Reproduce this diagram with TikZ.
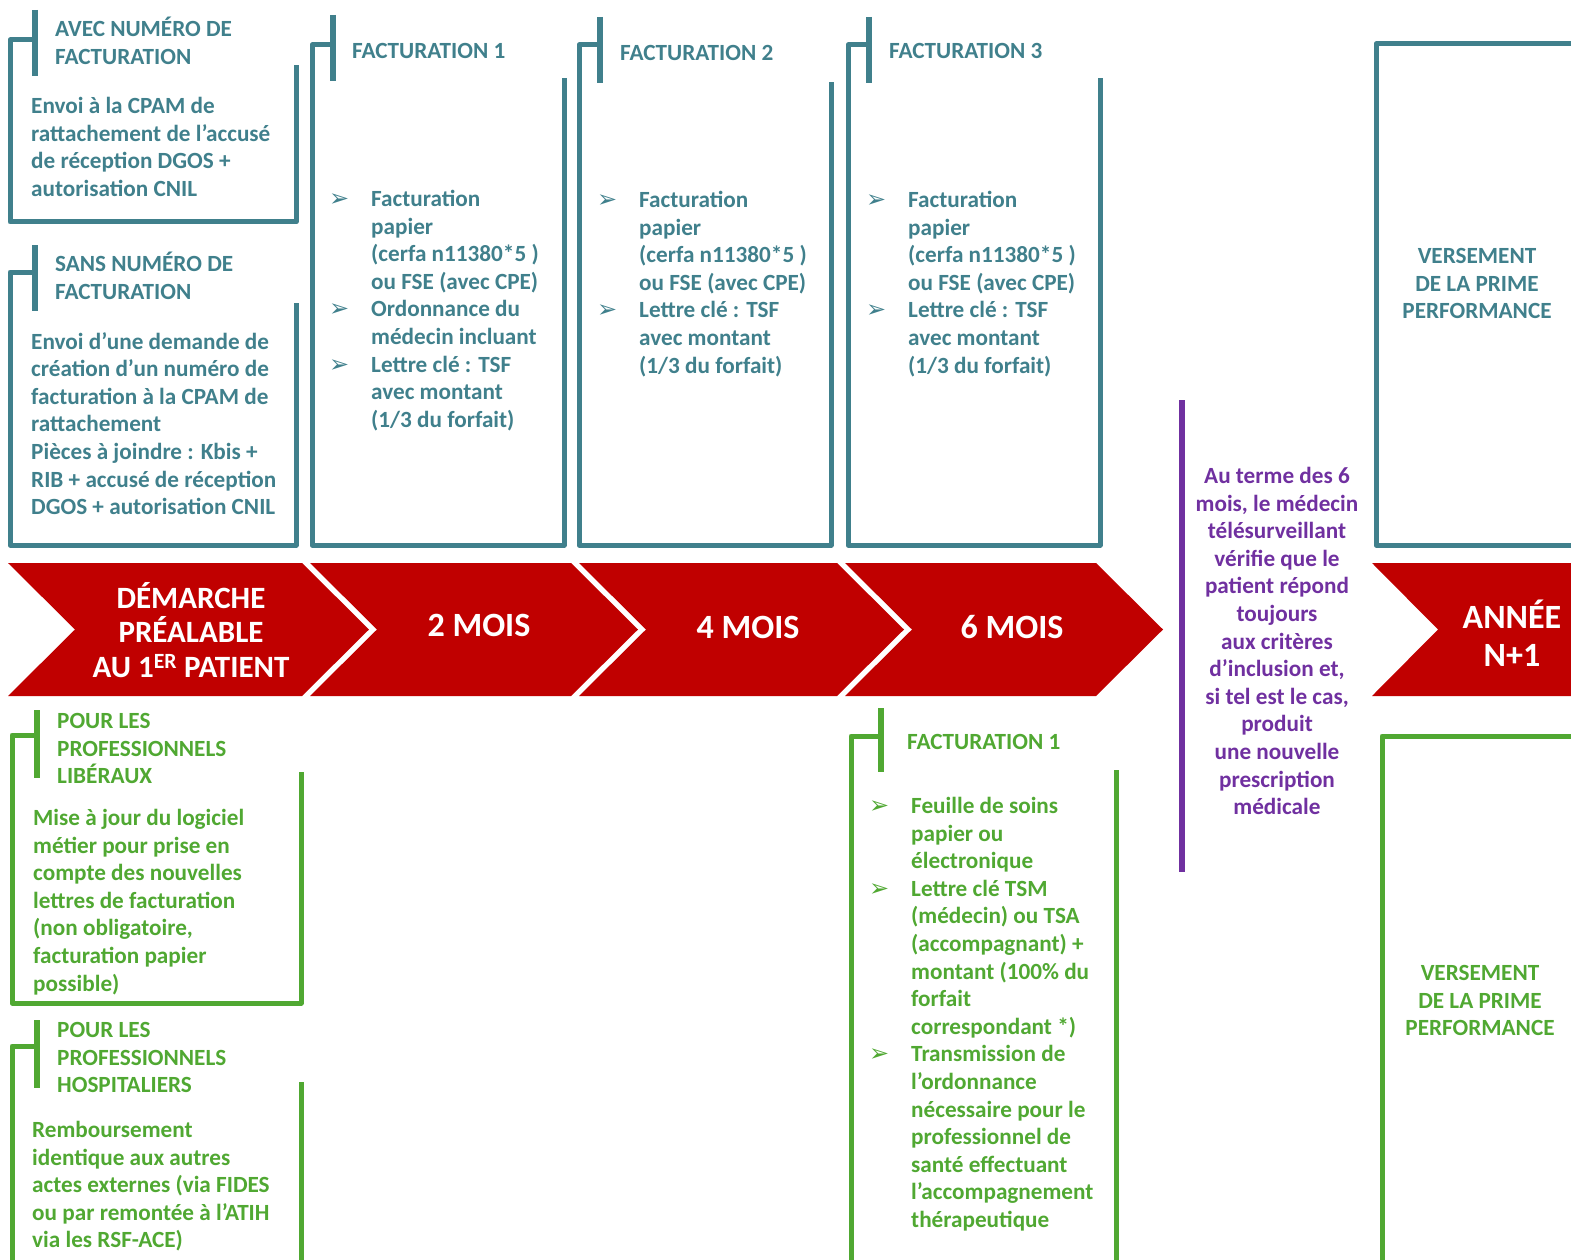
\documentclass[tikz,border=0pt]{standalone}
\usepackage{fontspec}
\setmainfont{Carlito}
\newfontfamily\flechefont{DejaVu Sans}

\definecolor{bleufact}{RGB}{64,128,140}
\definecolor{rougemois}{RGB}{192,0,0}
\definecolor{vertpro}{RGB}{80,168,50}
\definecolor{violetmed}{RGB}{112,48,160}

\newcommand{\corps}{\fontsize{23.2}{27.6}\selectfont\bfseries}
\newcommand{\puce}{\llap{{\flechefont\fontsize{24}{24}\selectfont ➢}\hspace{22pt}}}

\tikzset{
  cadre/.style={line width=5pt, line join=round},
  barre/.style={line width=6.5pt},
  texte/.style={font=\corps, align=left, inner sep=0pt, anchor=north west, execute at begin node=\strut},
  centre/.style={texte, align=center, anchor=north},
  chevron/.style={fill=rougemois},
  mois/.style={font=\fontsize{34}{38}\selectfont\bfseries, text=white, inner sep=0pt, anchor=base},
  demarche/.style={font=\fontsize{31}{34.5}\selectfont\bfseries, text=white, inner sep=0pt, align=center, anchor=north, execute at begin node=\strut}
}

\begin{document}
\begin{tikzpicture}[x=1pt, y=-1pt]
            \useasboundingbox (0,0) rectangle (1571,1260);
            \clip (0,0) rectangle (1571,1260);

            %chevrons
            \fill[chevron] (8,563) -- (302,563) -- (369,629.5) -- (302,696) -- (8,696) -- (75,629.5) -- cycle;
            \fill[chevron] (310,563) -- (571,563) -- (638,629.5) -- (571,696) -- (310,696) -- (377,629.5) -- cycle;
            \fill[chevron] (579,563) -- (837,563) -- (904,629.5) -- (837,696) -- (579,696) -- (646,629.5) -- cycle;
            \fill[chevron] (845,563) -- (1096,563) -- (1163,629.5) -- (1096,696) -- (845,696) -- (912,629.5) -- cycle;
            \fill[chevron] (1372,563) -- (1580,563) -- (1580,696) -- (1372,696) -- (1438,629.5) -- cycle;

            %chevron labels
            \node[demarche] (demarche) at (191,582) {DÉMARCHE\\PRÉALABLE\\AU 1\textsuperscript{ER} PATIENT};
            \node[mois] (mois2) at (479,636) {2 MOIS};
            \node[mois] (mois4) at (748,638) {4 MOIS};
            \node[mois] (mois6) at (1012,638) {6 MOIS};
            \node[mois, align=center, anchor=north, execute at begin node=\strut] (anneeN) at (1512,600) {ANNÉE\\N+1};

            %top frames
            \draw[cadre, bleufact] (35,40) -- (10,40) -- (10,222) -- (296,222) -- (296,65);
            \draw[barre, bleufact] (35,10) -- (35,76);
            \draw[cadre, bleufact] (35,272) -- (10,272) -- (10,545) -- (296,545) -- (296,303);
            \draw[barre, bleufact] (35,245) -- (35,311);
            \draw[cadre, bleufact] (333,45) -- (312,45) -- (312,545) -- (564,545) -- (564,78);
            \draw[barre, bleufact] (333,15) -- (333,81);
            \draw[cadre, bleufact] (600,45) -- (579,45) -- (579,545) -- (831,545) -- (831,82);
            \draw[barre, bleufact] (600,17) -- (600,83);
            \draw[cadre, bleufact] (869,45) -- (848,45) -- (848,545) -- (1100,545) -- (1100,78);
            \draw[barre, bleufact] (869,17) -- (869,83);
            \draw[cadre, bleufact] (1590,44) -- (1376,44) -- (1376,545) -- (1590,545);

            %top texts
            \node[texte, text=bleufact] (avecT) at (55,17) {AVEC NUMÉRO DE\\FACTURATION};
            \node[texte, text=bleufact] (avecB) at (31,97) {Envoi à la CPAM de\\rattachement de l’accusé\\de réception DGOS +\\autorisation CNIL};
            \node[texte, text=bleufact] (sansT) at (55,252) {SANS NUMÉRO DE\\FACTURATION};
            \node[texte, text=bleufact] (sansB) at (31,332) {Envoi d’une demande de\\création d’un numéro de\\facturation à la CPAM de\\rattachement\\Pièces à joindre : Kbis +\\RIB + accusé de réception\\DGOS + autorisation CNIL};
            \node[texte, text=bleufact] (fact1T) at (352,39) {FACTURATION 1};
            \node[texte, text=bleufact] (fact1B) at (371,190) {\puce Facturation\\papier\\(cerfa n11380*5 )\\ou FSE (avec CPE)\\\puce Ordonnance du\\médecin incluant\\\puce Lettre clé : TSF\\avec montant\\(1/3 du forfait)};
            \node[texte, text=bleufact] (fact2T) at (620,41) {FACTURATION 2};
            \node[texte, text=bleufact] (fact2B) at (639,191) {\puce Facturation\\papier\\(cerfa n11380*5 )\\ou FSE (avec CPE)\\\puce Lettre clé : TSF\\avec montant\\(1/3 du forfait)};
            \node[texte, text=bleufact] (fact3T) at (889,39) {FACTURATION 3};
            \node[texte, text=bleufact] (fact3B) at (908,191) {\puce Facturation\\papier\\(cerfa n11380*5 )\\ou FSE (avec CPE)\\\puce Lettre clé : TSF\\avec montant\\(1/3 du forfait)};
            \node[centre, text=bleufact] (primeH) at (1477,248) {VERSEMENT\\DE LA PRIME\\PERFORMANCE};

            %six months check
            \draw[barre, violetmed] (1182,400) -- (1182,872);
            \node[centre, text=violetmed] (terme) at (1277,467) {Au terme des 6\\mois, le médecin\\télésurveillant\\vérifie que le\\patient répond\\toujours\\aux critères\\d’inclusion et,\\si tel est le cas,\\produit\\une nouvelle\\prescription\\médicale};

            %bottom frames
            \draw[cadre, vertpro] (37,735) -- (12,735) -- (12,1003) -- (301,1003) -- (301,772);
            \draw[barre, vertpro] (37,710) -- (37,778);
            \draw[cadre, vertpro] (37,1046) -- (12,1046) -- (12,1275);
            \draw[cadre, vertpro] (301,1275) -- (301,1082);
            \draw[barre, vertpro] (37,1020) -- (37,1088);
            \draw[cadre, vertpro] (881,736) -- (851,736) -- (851,1275);
            \draw[cadre, vertpro] (1116,1275) -- (1116,770);
            \draw[barre, vertpro] (881,708) -- (881,772);
            \draw[cadre, vertpro] (1382,1275) -- (1382,736) -- (1590,736);

            %bottom texts
            \node[texte, text=vertpro] (liberT) at (57,713) {POUR LES\\PROFESSIONNELS\\LIBÉRAUX};
            \node[texte, text=vertpro] (liberB) at (33,809) {Mise à jour du logiciel\\métier pour prise en\\compte des nouvelles\\lettres de facturation\\(non obligatoire,\\facturation papier\\possible)};
            \node[texte, text=vertpro] (hospT) at (57,1022) {POUR LES\\PROFESSIONNELS\\HOSPITALIERS};
            \node[texte, text=vertpro] (hospB) at (32,1121) {Remboursement\\identique aux autres\\actes externes (via FIDES\\ou par remontée à l’ATIH\\via les RSF-ACE)};
            \node[texte, text=vertpro] (factvT) at (907,730) {FACTURATION 1};
            \node[texte, text=vertpro] (factvB) at (911,797) {\puce Feuille de soins\\papier ou\\électronique\\\puce Lettre clé TSM\\(médecin) ou TSA\\(accompagnant) +\\montant (100\% du\\forfait\\correspondant *)\\\puce Transmission de\\l’ordonnance\\nécessaire pour le\\professionnel de\\santé effectuant\\l’accompagnement\\thérapeutique};
            \node[centre, text=vertpro] (primeB) at (1480,965) {VERSEMENT\\DE LA PRIME\\PERFORMANCE};
\end{tikzpicture}
\end{document}
